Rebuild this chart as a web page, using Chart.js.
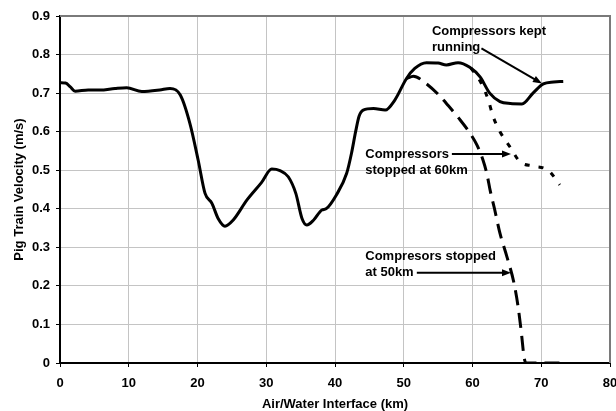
<!DOCTYPE html>
<html>
<head>
<meta charset="utf-8">
<script src="https://cdn.jsdelivr.net/npm/chart.js@4.4.1/dist/chart.umd.min.js"></script>
<style>
  html, body { margin: 0; padding: 0; background: #fff; }
  #chart { display: block; }
</style>
</head>
<body>
<canvas id="chart" width="616" height="411"></canvas>
<script>
// distance along the line (km) and velocity (m/s)
const keptX = [0, 0.8, 1.5, 2.2, 4.1, 5.8, 8, 9.7, 11.9, 14.5, 16, 17.5, 18.9, 20.1, 21.1, 22.1, 23.0, 24.0, 25.2, 27.2, 29.3, 30.8, 32.0, 33.2, 34.3, 35.2, 35.9, 36.9, 38.1, 38.7, 40.2, 41.7, 42.4, 43.0, 43.5, 44.1, 45.6, 47.3, 48.7, 50.4, 51.6, 53.3, 55.0, 56.2, 57.9, 59.6, 61.1, 62.5, 64.0, 65.5, 67.2, 68.8, 70.3, 71.8, 73.2];
const keptY = [0.727, 0.726, 0.716, 0.705, 0.708, 0.708, 0.712, 0.714, 0.704, 0.708, 0.712, 0.695, 0.621, 0.526, 0.44, 0.414, 0.375, 0.355, 0.371, 0.423, 0.468, 0.503, 0.499, 0.483, 0.44, 0.375, 0.358, 0.371, 0.397, 0.40, 0.436, 0.492, 0.544, 0.60, 0.64, 0.656, 0.66, 0.656, 0.682, 0.738, 0.764, 0.779, 0.778, 0.773, 0.779, 0.767, 0.742, 0.70, 0.678, 0.673, 0.672, 0.70, 0.724, 0.729, 0.73];

const stop50X = [50.4, 51.4, 53.1, 55.0, 56.5, 58.0, 59.2, 60.6, 61.5, 62.1, 62.6, 63.2, 64.0, 65.0, 66.0, 66.6, 67.1, 67.5, 67.8, 70, 73.2];
const stop50Y = [0.738, 0.744, 0.727, 0.697, 0.667, 0.635, 0.607, 0.567, 0.528, 0.49, 0.445, 0.40, 0.336, 0.276, 0.21, 0.15, 0.08, 0.015, 0, 0, 0];

const stop60X = [59.8, 61.3, 62.3, 63.0, 64.0, 65.5, 66.9, 68.8, 71.0, 72.7];
const stop60Y = [0.765, 0.725, 0.682, 0.639, 0.60, 0.559, 0.522, 0.511, 0.50, 0.462];

const xTickLabels = ['0', '10', '20', '30', '40', '50', '60', '70', '80'];
const yTickLabels = ['0', '0.1', '0.2', '0.3', '0.4', '0.5', '0.6', '0.7', '0.8', '0.9'];

// callouts in data units: first text line (left, middle), arrow from -> to
const callouts = [
  { lines: ['Compressors kept', 'running'], x: 54.1, y: 0.861, from: [61.3, 0.816], to: [70.1, 0.725] },
  { lines: ['Compressors', 'stopped at 60km'], x: 44.4, y: 0.542, from: [57.0, 0.542], to: [65.6, 0.542] },
  { lines: ['Compresors stopped', 'at 50km'], x: 44.4, y: 0.276, from: [51.9, 0.234], to: [65.6, 0.234] }
];

const FONT = "'Liberation Sans', Arial, sans-serif";

const toPoints = (xs, ys) => xs.map((x, i) => ({ x: x, y: ys[i] }));

const framePlugin = {
  id: 'frame',
  beforeDatasetsDraw(chart) {
    const { ctx, chartArea: a } = chart;
    ctx.save();
    ctx.strokeStyle = '#7a7a7a';
    ctx.lineWidth = 2;
    ctx.beginPath();
    ctx.moveTo(a.left, a.top);
    ctx.lineTo(a.right, a.top);
    ctx.lineTo(a.right, a.bottom);
    ctx.stroke();
    ctx.restore();
  }
};

const calloutPlugin = {
  id: 'callouts',
  afterDatasetsDraw(chart) {
    const { ctx, scales: { x, y } } = chart;
    ctx.save();
    ctx.fillStyle = '#000';
    ctx.strokeStyle = '#000';
    ctx.font = 'bold 13px ' + FONT;
    ctx.textBaseline = 'middle';
    ctx.textAlign = 'left';
    callouts.forEach(c => {
      const px = x.getPixelForValue(c.x);
      const py = y.getPixelForValue(c.y);
      c.lines.forEach((t, i) => ctx.fillText(t, px, py + i * 16.3));

      const x1 = x.getPixelForValue(c.from[0]), y1 = y.getPixelForValue(c.from[1]);
      const x2 = x.getPixelForValue(c.to[0]), y2 = y.getPixelForValue(c.to[1]);
      const ang = Math.atan2(y2 - y1, x2 - x1);
      const headLen = 9, headW = 3.5;
      ctx.lineWidth = 2;
      ctx.beginPath();
      ctx.moveTo(x1, y1);
      ctx.lineTo(x2 - Math.cos(ang) * headLen * 0.8, y2 - Math.sin(ang) * headLen * 0.8);
      ctx.stroke();
      ctx.beginPath();
      ctx.moveTo(x2, y2);
      ctx.lineTo(x2 - Math.cos(ang) * headLen - Math.sin(ang) * headW, y2 - Math.sin(ang) * headLen + Math.cos(ang) * headW);
      ctx.lineTo(x2 - Math.cos(ang) * headLen + Math.sin(ang) * headW, y2 - Math.sin(ang) * headLen - Math.cos(ang) * headW);
      ctx.closePath();
      ctx.fill();
    });
    ctx.restore();
  }
};

new Chart(document.getElementById('chart'), {
  type: 'line',
  data: {
    datasets: [
      {
        label: 'Compressors stopped at 50km',
        data: toPoints(stop50X, stop50Y),
        borderColor: '#000',
        borderWidth: 3,
        borderDash: [15, 8],
        pointRadius: 0,
        cubicInterpolationMode: 'monotone'
      },
      {
        label: 'Compressors stopped at 60km',
        data: toPoints(stop60X, stop60Y),
        borderColor: '#000',
        borderWidth: 3,
        borderDash: [5, 9],
        pointRadius: 0,
        cubicInterpolationMode: 'monotone'
      },
      {
        label: 'Compressors kept running',
        data: toPoints(keptX, keptY),
        borderColor: '#000',
        borderWidth: 3,
        pointRadius: 0,
        cubicInterpolationMode: 'monotone'
      }
    ]
  },
  options: {
    responsive: false,
    animation: false,
    devicePixelRatio: 1,
    layout: { padding: { top: 16, right: 6, left: 0, bottom: 0 } },
    plugins: { legend: { display: false }, tooltip: { enabled: false } },
    scales: {
      x: {
        type: 'linear',
        min: 0,
        max: 80,
        afterFit(scale) { scale.height = 48; scale.paddingRight = 0; scale.paddingLeft = 0; },
        ticks: {
          stepSize: 10,
          padding: 9,
          color: '#000',
          maxRotation: 0,
          font: { family: FONT, size: 13, weight: 'bold' },
          callback: (v, i) => xTickLabels[i]
        },
        grid: { color: '#c4c4c4', lineWidth: 1, tickLength: 4, tickColor: '#000' },
        border: { color: '#000', width: 2 },
        title: {
          display: true,
          text: 'Air/Water Interface (km)',
          color: '#000',
          font: { family: FONT, size: 13, weight: 'bold' },
          padding: { top: 0, bottom: -1.5 }
        }
      },
      y: {
        min: 0,
        max: 0.9,
        afterFit(scale) { scale.width = 60; scale.paddingTop = 0; scale.paddingBottom = 0; },
        ticks: {
          stepSize: 0.1,
          padding: 6,
          color: '#000',
          font: { family: FONT, size: 13, weight: 'bold' },
          callback: (v, i) => yTickLabels[i]
        },
        grid: { color: '#c4c4c4', lineWidth: 1, tickLength: 4, tickColor: '#000' },
        border: { color: '#000', width: 2 },
        title: {
          display: true,
          text: 'Pig Train Velocity (m/s)',
          color: '#000',
          font: { family: FONT, size: 13, weight: 'bold' },
          padding: { top: 12, bottom: 0 }
        }
      }
    }
  },
  plugins: [framePlugin, calloutPlugin]
});
</script>
</body>
</html>
